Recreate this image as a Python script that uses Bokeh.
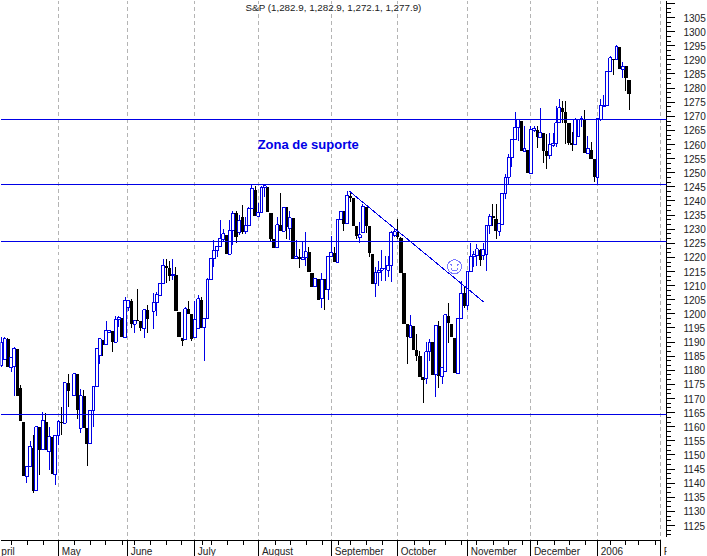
from bokeh.plotting import figure, ColumnDataSource
from bokeh.document import Document
from bokeh.embed import file_html
from bokeh.resources import INLINE
from bokeh.models import Range1d, FixedTicker, Label, Span, CustomJS

days = [*range(0, 22), *range(23, 47), *range(48, 199)]
opens = [1181.7,1184,1191.1,1181.1,1181.3,1187.6,1173.7,1161.8,1142.4,1146,1152.5,1137.4,1160,1151.9,1161.8,1151.3,1156.3,1143,1156.9,1161.8,1161.3,1175.5,
1171,1178.7,1159.5,1171,1159.5,1153.9,1165.9,1174.2,1185.2,1190.8,1189.1,1193.5,1194.1,1190,1198,1198.5,1191.7,1202.1,1204.5,1196.4,1197.7,1197.4,1194.9,1201.2,
1200.9,1204.1,1206.5,1210.9,1217.1,1216.3,1213.5,1213.9,1200.8,1191.5,1190.8,1201.8,1200,1191.5,1194.7,1205,1195,1198.2,1212.1,1219.7,1222.4,1223.8,1226.5,1228.1,1221.2,1229.7,1235.6,1229,1234.2,1229.1,1231.3,1237.2,1244,1234.6,1235.8,1244.6,1245,1235.8,1226.5,1223.4,1231.5,1229.3,1238,1230.4,1234,1219.5,1220.3,1219.1,1219.8,1221.8,1214.5,1209.6,1212.4,1205.3,1212.4,1208.5,1220.5,1221.6,1218.3,1233.6,1236.4,1231.9,1241.9,1241,1231.3,1227.1,1228.7,1238,1231.3,1221.2,1210.6,1214.7,1215.5,1215.9,1215.5,1217.3,1227.7,1228.9,1226.8,1214.5,1196.4,1191.5,1195.8,1187.2,1184.9,1177.8,1177,1186.6,1190,1178.5,1195.8,1177.9,1179.7,1199.4,1196.4,1191.5,1178.7,1198.5,1207.3,1202.9,1215,1220.3,1220.6,1222.6,1220.6,1220.9,1231.3,1234.8,1233.6,1229.3,1231.6,1242.7,1248.4,1255.3,1261.7,1265.9,1268.5,1257.6,1257.9,1249.6,1265,1265.2,1262.4,1264.1,1257.6,1256.1,1259.8,1260.5,1267.7,1273,1271.5,1267.7,1260.5,1259.9,1263,1268.7,1269.1,1256.9,1258.2,1254.7,1248.4,1268.7,1273.4,1273.8,1286,1290.4,1290,1294.7,1286.5,1288,1282.9]
highs = [1191.9,1191.9,1191.6,1184.4,1188.1,1187.6,1174.8,1161.8,1146,1155.1,1157,1160,1160,1165.1,1164.9,1159.8,1156.3,1156.9,1162.4,1167.1,1176,1178.7,
1179,1178.7,1173.4,1173,1159.5,1165.7,1174.6,1187.6,1191.1,1190.8,1197.3,1194.1,1194.1,1199.1,1199.4,1198.5,1205.9,1204.7,1205.3,1197.6,1208.8,1197.4,1201.8,1203,
1207.4,1207.7,1210.9,1219.5,1219.5,1218.9,1219.5,1216.7,1200.8,1191.5,1202.3,1204.5,1200,1204.5,1206.7,1205.9,1198.2,1212.7,1219.7,1226,1223.8,1233.3,1230,1228.1,1233.3,1236.6,1236.6,1235,1238.7,1234.2,1238,1245.7,1245.4,1239.2,1245.4,1246,1245,1235.8,1226.5,1234.4,1242.7,1237.8,1238,1236.6,1234,1226,1223,1225.4,1229.1,1223.6,1214.5,1212.6,1212.4,1214.5,1212.4,1220.6,1227.7,1223.6,1233.6,1236.6,1236.6,1243.7,1243,1241,1231.3,1232.4,1239,1238,1231.3,1221.2,1216.5,1218.9,1222.6,1220.6,1220.6,1229.3,1230.1,1233.6,1227.1,1214.5,1196.4,1199.6,1195.8,1192.9,1187,1177.8,1189.9,1191.1,1190,1196,1197.6,1181,1199.6,1203.9,1196.4,1191.5,1198.5,1211.8,1209.4,1215,1225,1222.4,1224.8,1223,1225,1231.3,1235.4,1238.9,1238.9,1231.9,1243,1249.6,1256.5,1261.7,1271.5,1269.1,1268.5,1266.4,1257.9,1266.7,1266.7,1266.7,1273,1264.1,1263.6,1264,1264,1273.8,1276.2,1275.6,1275.6,1267.7,1264.4,1269.5,1268.7,1270,1272.3,1263.2,1261,1254.7,1269.1,1276,1277.4,1286.2,1291.5,1290.4,1295.1,1294.7,1289.2,1288,1282.9]
lows = [1181.1,1184,1181.1,1179.3,1171,1171,1161.9,1142.4,1140,1146,1136.4,1137.4,1143,1151.9,1151.8,1144.5,1143.3,1139.4,1153.7,1156.9,1161.3,1166.9,
1171,1162.8,1157.7,1159.5,1146,1153.9,1160,1174.2,1182.2,1185.2,1189.1,1193.5,1186.4,1190,1195.2,1191.7,1191.7,1201,1195,1193.2,1197.4,1194,1191.3,1193.1,
1194.7,1199.1,1206.5,1210.9,1210.9,1211.8,1212,1201,1191.7,1188.5,1190.8,1200,1190.5,1191.5,1194.7,1195,1183.4,1198.2,1212.1,1216.5,1220.3,1223.8,1225.4,1221.2,1221.2,1224.5,1225,1228,1228.3,1228.3,1231.3,1237.2,1234.6,1234.6,1235.8,1241.3,1236,1225.9,1223.4,1223.4,1229.3,1229.3,1226.5,1226.3,1219.5,1219.5,1216.2,1219.1,1216.9,1214.7,1209.6,1209.6,1205,1202.1,1201.4,1205,1220.5,1218.3,1218.3,1233.6,1229.5,1231.9,1239.5,1231.3,1226.5,1225,1228.7,1228.7,1220.3,1210.6,1205.9,1210,1211.5,1211.8,1213,1211.4,1227.1,1226.5,1214.5,1196.4,1182.3,1191.5,1187.3,1183.4,1177.5,1168.3,1175.2,1183.4,1178.5,1170.4,1173.8,1175.2,1179.7,1189.6,1191.7,1179,1178.7,1198.5,1202.1,1201.4,1215,1216.5,1217.1,1217.1,1219,1215.3,1228.3,1231.3,1226.5,1227.5,1231.6,1240.7,1246.1,1252,1261.7,1261.4,1257.6,1257.6,1249.9,1249.6,1264.5,1258.8,1262.4,1253.4,1251.2,1254.9,1259.1,1259.1,1267.7,1267.7,1260.2,1259.7,1257.6,1259.9,1263,1266.1,1256.9,1256.9,1254.7,1246.9,1245.7,1268.5,1273.4,1273.8,1286,1284.5,1290,1286.8,1283.5,1279.1,1272.1]
closes = [1189.9,1191.1,1181.1,1184.4,1187.9,1171,1161.9,1142.4,1146,1153,1137.4,1160,1151.8,1162.2,1151.8,1156.4,1143.3,1156.9,1161.9,1161.2,1175.5,1172.8,
1178.7,1166,1171,1159.5,1153.9,1165.7,1174.2,1187.6,1191.1,1189.1,1194.1,1194.1,1190.2,1198,1198.8,1191.7,1204.7,1204.7,1196.4,1197.6,1197.4,1194.9,1201.4,1198.2,
1204.1,1206.7,1210.9,1217.3,1216.3,1213.5,1214.1,1201,1191.7,1190.5,1201.8,1200,1191.1,1198,1205.3,1195,1198.2,1212.1,1219.7,1222.4,1223.8,1226.8,1228.3,1221.2,1229.7,1235.4,1227.4,1233,1229.1,1231.3,1237.2,1244.3,1234.6,1236,1244.6,1245.4,1236,1226.5,1223.4,1231.5,1229.3,1237.8,1230.7,1234,1219.5,1220.3,1219.5,1219.8,1222,1214.7,1209.6,1212.6,1205,1212.1,1208.5,1220.5,1221.7,1218.3,1233.6,1236.4,1231.9,1241.9,1241,1231.3,1227.5,1228,1238.1,1231.3,1221.5,1210.6,1214.7,1215.5,1215.9,1216,1217.3,1228.9,1229.1,1227.1,1214.5,1196.4,1191.7,1196,1187.3,1184.9,1177.5,1176.7,1186.6,1190,1178.5,1196,1177.9,1181,1199.6,1196.7,1191.7,1179,1198.5,1207.3,1202.9,1215,1220.3,1221,1223,1219.1,1222.8,1231.3,1234.6,1233.9,1229.3,1231.9,1242.7,1248.4,1255.3,1261.7,1265.9,1268.7,1257.6,1258.5,1249.9,1265.2,1265.6,1262.6,1264.1,1257.6,1256.1,1259.9,1260.5,1267.7,1273,1271.5,1267.7,1260.5,1259.7,1268.7,1268.7,1269.1,1256.9,1258.5,1254.7,1248.4,1269.1,1273.8,1273.8,1286,1290.7,1289.8,1294.7,1286.8,1287.8,1283.5,1277.9]

level_values = [1268.9, 1245.8, 1225.6, 1164.4]
month_days = [18.08, 39.8, 61.0, 81.2, 104.2, 125.0, 147.1, 167.0, 188.1, 208.0]
label_days = [-1, 18.08, 39.8, 61.0, 81.2, 104.2, 125.0, 147.1, 167.0, 188.1, 208.0]
month_names = ["pril", "May", "June", "July", "August", "September", "October", "November", "December", "2006", "F"]
week_days = [3.15, 8.15, 13.15, 23.0, 28.1, 32.9, 38.1, 42.0, 47.0, 52.0, 56.8, 63.3, 66.2, 71.2, 76.2, 86.4, 91.2,
             96.2, 101.2, 106.4, 110.1, 115.0, 120.1, 130.3, 135.1, 140.0, 145.0, 149.8, 155.3, 160.0, 164.3, 169.2,
             174.5, 179.3, 184.2, 192.1, 196.8, 201.0, 206.3]
price_ticks = list(range(1125, 1315, 5))
price_minor = [v + s for v in range(1120, 1315, 5) for s in (5 / 3, 10 / 3)]
trend_days = [109.5, 152.0]
trend_values = [1243.7, 1204.3]
face_day, face_value = 142.9, 1216.7
eye_days = [141.9, 143.9]

TITLE = "S&P (1,282.9, 1,282.9, 1,272.1, 1,277.9)"
NOTE = "Zona de suporte"
BLUE = "#0000e6"
PRICE_TOP = 1311.04
PX_PER_POINT = 2.822
AXIS_VALUE = PRICE_TOP - 540 / PX_PER_POINT
PRICE_BOTTOM = PRICE_TOP - 556 / PX_PER_POINT
MINOR_END = PRICE_TOP - 544 / PX_PER_POINT
X_LEFT = -0.315

assert len({len(days), len(opens), len(highs), len(lows), len(closes)}) == 1

up = [i for i in range(len(days)) if closes[i] >= opens[i]]
dn = [i for i in range(len(days)) if closes[i] < opens[i]]
def src(ix):
    return ColumnDataSource(dict(
        x=[days[i] for i in ix], hi=[highs[i] for i in ix], lo=[lows[i] for i in ix],
        top=[max(opens[i], closes[i]) for i in ix], bot=[min(opens[i], closes[i]) for i in ix]))

p = figure(width=707, height=556, frame_width=666, frame_height=556,
           x_range=Range1d(X_LEFT, 209.78), y_range=Range1d(PRICE_BOTTOM, PRICE_TOP),
           y_axis_location="right", toolbar_location=None, output_backend="svg",
           min_border=0, min_border_right=41, background_fill_color="white",
           outline_line_color=None)
p.styles = {"position": "absolute", "left": "0px", "top": "0px"}

p.ygrid.visible = False
p.xaxis.visible = False
g = p.xgrid[0]
g.ticker = FixedTicker(ticks=month_days)
g.grid_line_color = "#b4b4b4"
g.grid_line_dash = "4 3"
g.grid_line_width = 1

ay = p.yaxis[0]
ay.ticker = FixedTicker(ticks=price_ticks, minor_ticks=price_minor)
ay.major_label_overrides = {1310: ""}
ay.axis_line_color = "black"
ay.major_tick_line_color = "black"
ay.minor_tick_line_color = "black"
ay.major_tick_in = 0
ay.major_tick_out = 8
ay.minor_tick_in = 0
ay.minor_tick_out = 4
ay.major_label_standoff = 9
ay.major_label_text_font = "Liberation Sans"
ay.major_label_text_font_size = "10px"
ay.major_label_text_color = "#222222"
ay.bounds = (1121, PRICE_TOP)

# date scale along the bottom: baseline, month ticks, week ticks
p.segment([X_LEFT], [AXIS_VALUE], [month_days[-1]], [AXIS_VALUE], color="black", line_width=1)
p.segment(month_days, [AXIS_VALUE] * len(month_days), month_days, [PRICE_BOTTOM] * len(month_days), color="black", line_width=1)
p.segment(week_days, [AXIS_VALUE] * len(week_days), week_days, [MINOR_END] * len(week_days), color="black", line_width=1)

ds, us = src(dn), src(up)
p.segment("x", "hi", "x", "lo", source=ds, color="black", line_width=1)
p.vbar("x", 1.05, "top", "bot", source=ds, fill_color="black", line_color=None)
p.segment("x", "hi", "x", "lo", source=us, color=BLUE, line_width=1)
p.vbar("x", 0.9, "top", "bot", source=us, fill_color="white", line_color=BLUE, line_width=1)

for lv in level_values:
    p.add_layout(Span(location=lv, dimension="width", line_color=BLUE, line_width=1))

p.line(trend_days, trend_values, line_color=BLUE, line_width=1)

p.scatter([face_day], [face_value], size=14, marker="circle", fill_color=None, line_color="#7a7aff", line_width=1)
p.scatter(eye_days, [face_value + 0.7] * 2, size=2, marker="circle", fill_color="#7a7aff", line_color=None)
p.arc([face_day], [face_value], radius=4, radius_units="screen", start_angle=3.6, end_angle=5.8,
      line_color="#7a7aff", line_width=1)

for d, name in zip(label_days, month_names):
    p.add_layout(Label(x=d, y=1115.96, x_offset=3, text=name, text_font="Liberation Sans", text_font_size="10px",
                       text_color="#222222", text_baseline="alphabetic"))
p.add_layout(Label(x=77.0, y=1308.6, text=TITLE, text_font="Liberation Sans", text_font_size="9.8px",
                   text_color="#222222", text_baseline="alphabetic"))
p.add_layout(Label(x=80.8, y=1260.0, text=NOTE, text_font="Liberation Sans", text_font_style="bold",
                   text_font_size="13px", text_color=BLUE, text_baseline="alphabetic"))

crisp = CustomJS(code="""
function walk(root) {
  root.querySelectorAll('*').forEach(function (el) {
    if (el.tagName && el.tagName.toLowerCase() === 'svg') el.style.shapeRendering = 'crispEdges';
    if (el.shadowRoot) walk(el.shadowRoot);
  });
}
walk(document);
setTimeout(function () { walk(document); }, 100);
""")
doc = Document()
doc.add_root(p)
doc.js_on_event("document_ready", crisp)

open("out.html", "w").write(file_html(p, INLINE))
